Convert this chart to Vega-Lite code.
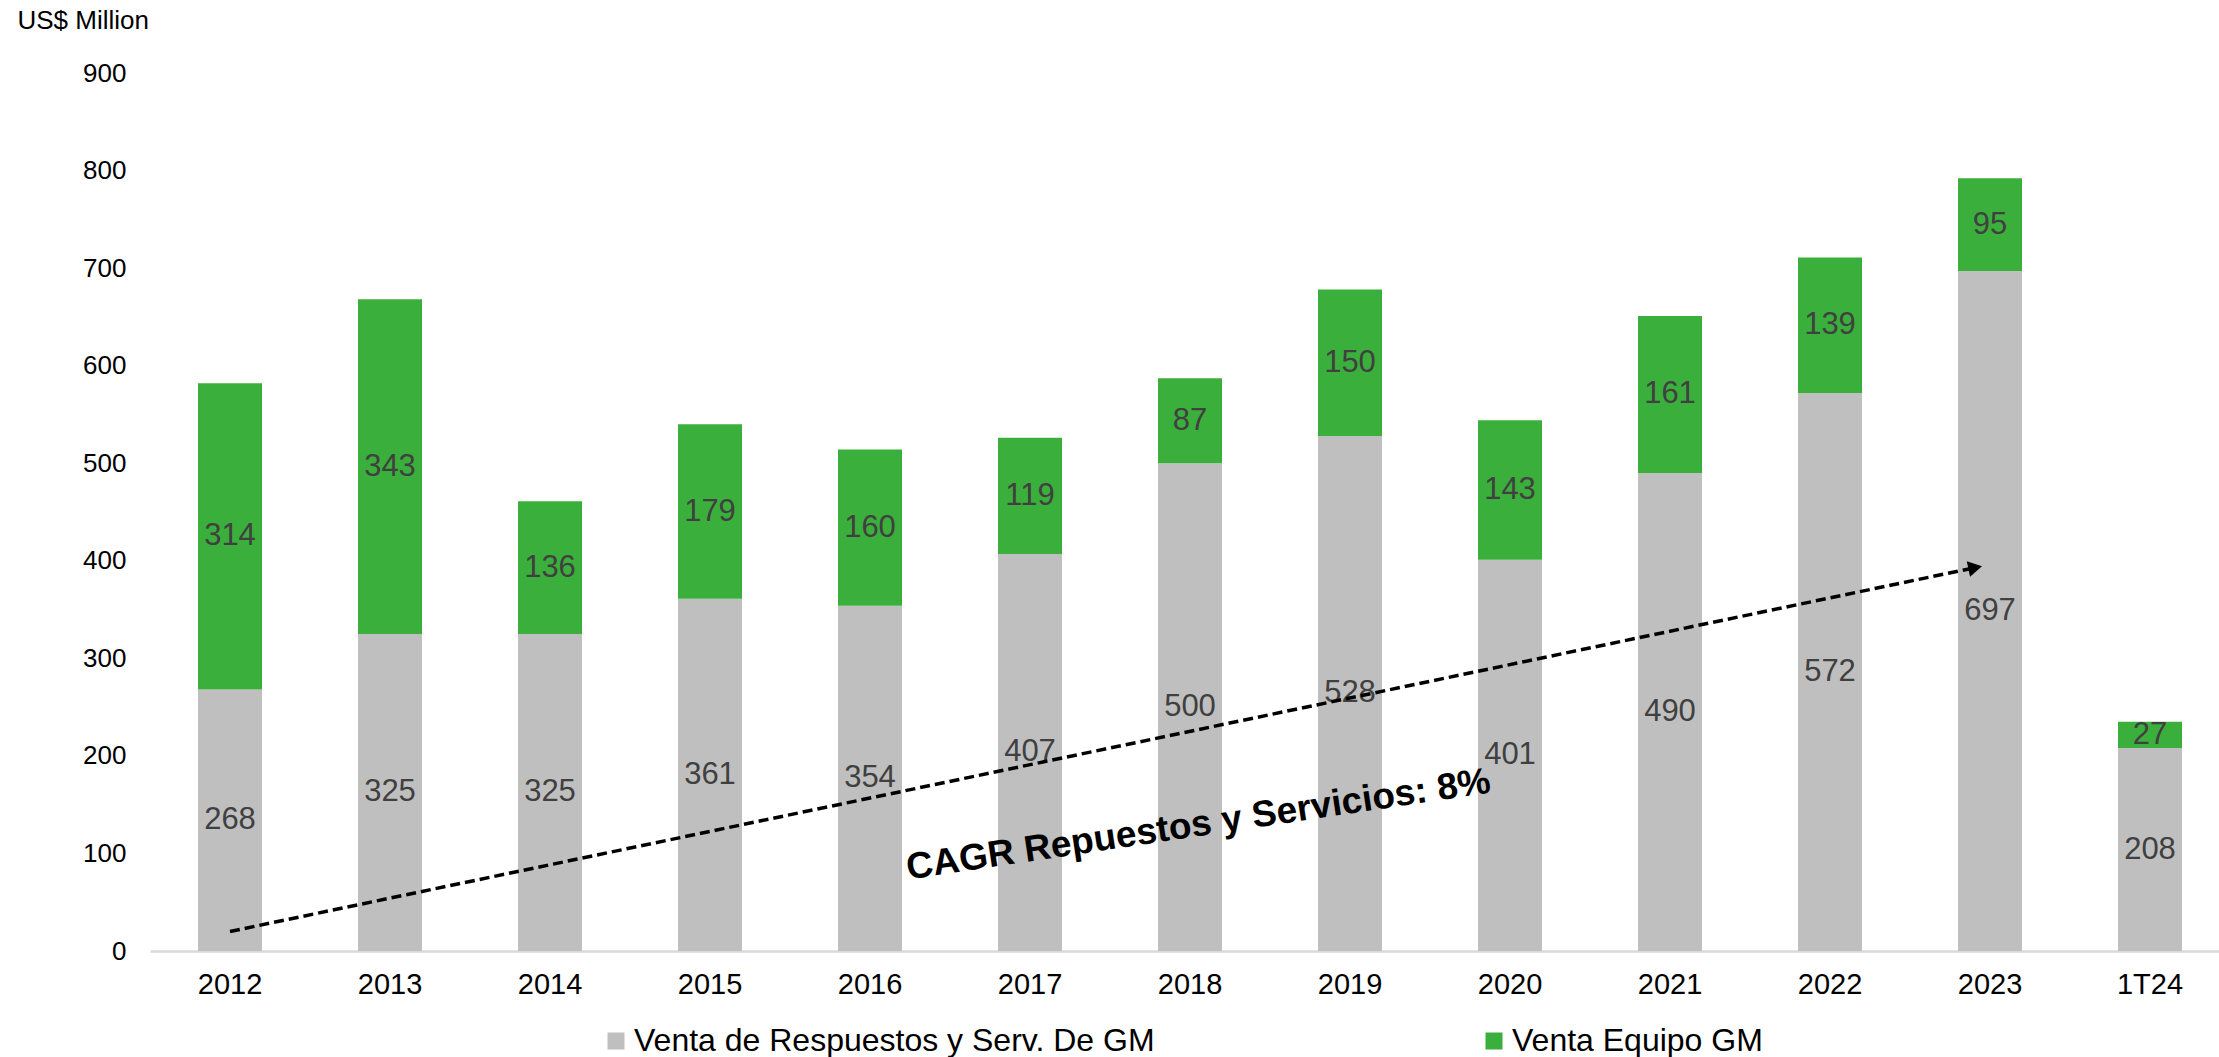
{
  "$schema": "https://vega.github.io/schema/vega-lite/v6.json",
  "autosize": "none",
  "width": 2080,
  "height": 878,
  "padding": {"left": 150, "top": 73, "right": 0, "bottom": 106},
  "background": "white",
  "config": {
    "view": {"stroke": null},
    "font": "Liberation Sans"
  },
  "data": {
    "values": [
      {"year": "2012", "series": "Venta de Respuestos y Serv. De GM", "value": 268},
      {"year": "2012", "series": "Venta Equipo GM", "value": 314},
      {"year": "2013", "series": "Venta de Respuestos y Serv. De GM", "value": 325},
      {"year": "2013", "series": "Venta Equipo GM", "value": 343},
      {"year": "2014", "series": "Venta de Respuestos y Serv. De GM", "value": 325},
      {"year": "2014", "series": "Venta Equipo GM", "value": 136},
      {"year": "2015", "series": "Venta de Respuestos y Serv. De GM", "value": 361},
      {"year": "2015", "series": "Venta Equipo GM", "value": 179},
      {"year": "2016", "series": "Venta de Respuestos y Serv. De GM", "value": 354},
      {"year": "2016", "series": "Venta Equipo GM", "value": 160},
      {"year": "2017", "series": "Venta de Respuestos y Serv. De GM", "value": 407},
      {"year": "2017", "series": "Venta Equipo GM", "value": 119},
      {"year": "2018", "series": "Venta de Respuestos y Serv. De GM", "value": 500},
      {"year": "2018", "series": "Venta Equipo GM", "value": 87},
      {"year": "2019", "series": "Venta de Respuestos y Serv. De GM", "value": 528},
      {"year": "2019", "series": "Venta Equipo GM", "value": 150},
      {"year": "2020", "series": "Venta de Respuestos y Serv. De GM", "value": 401},
      {"year": "2020", "series": "Venta Equipo GM", "value": 143},
      {"year": "2021", "series": "Venta de Respuestos y Serv. De GM", "value": 490},
      {"year": "2021", "series": "Venta Equipo GM", "value": 161},
      {"year": "2022", "series": "Venta de Respuestos y Serv. De GM", "value": 572},
      {"year": "2022", "series": "Venta Equipo GM", "value": 139},
      {"year": "2023", "series": "Venta de Respuestos y Serv. De GM", "value": 697},
      {"year": "2023", "series": "Venta Equipo GM", "value": 95},
      {"year": "1T24", "series": "Venta de Respuestos y Serv. De GM", "value": 208},
      {"year": "1T24", "series": "Venta Equipo GM", "value": 27}
    ]
  },
  "layer": [
    {
      "layer": [
        {
          "mark": {"type": "bar"},
          "encoding": {
            "x": {
              "field": "year", "type": "nominal",
              "sort": ["2012","2013","2014","2015","2016","2017","2018","2019","2020","2021","2022","2023","1T24"],
              "scale": {"paddingInner": 0.6, "paddingOuter": 0.3},
              "axis": {"title": null, "labelFontSize": 29, "labelColor": "black", "labelPadding": 19, "ticks": false, "tickSize": 0, "domainColor": "#D9D9D9", "domainWidth": 2.5, "labelAngle": 0, "grid": false}
            },
            "y": {
              "field": "value", "type": "quantitative", "stack": "zero",
              "scale": {"domain": [0, 900], "nice": false, "zero": true},
              "axis": {
                "title": "US$ Million", "titleAngle": 0, "titleAlign": "left", "titleBaseline": "alphabetic",
                "titleX": -133, "titleY": -45, "titleFontSize": 26, "titleFontWeight": "normal", "titleColor": "black",
                "labelFontSize": 26, "labelColor": "black", "labelPadding": 24, "ticks": false, "tickSize": 0,
                "domain": false, "grid": false, "values": [0,100,200,300,400,500,600,700,800,900]
              }
            },
            "color": {
              "field": "series", "type": "nominal",
              "scale": {"domain": ["Venta de Respuestos y Serv. De GM", "Venta Equipo GM"], "range": ["#BFBFBF", "#3BAF3B"]},
              "legend": {
                "orient": "none", "legendX": 450, "legendY": 952, "direction": "horizontal", "title": null,
                "symbolType": "square", "symbolSize": 289, "symbolStrokeWidth": 0, "labelFontSize": 32,
                "labelColor": "black", "labelOffset": 2, "columnPadding": 323, "padding": 0, "labelLimit": 1000
              }
            },
            "order": {"field": "series", "sort": "descending"}
          }
        },
        {
          "transform": [
            {"stack": "value", "groupby": ["year"], "sort": [{"field": "series", "order": "descending"}], "as": ["v0", "v1"]},
            {"fold": ["v0", "v1"], "as": ["k", "pos"]},
            {"aggregate": [{"op": "mean", "field": "pos", "as": "mid"}], "groupby": ["year", "series", "value"]}
          ],
          "mark": {"type": "text", "fontSize": 31, "color": "#404040", "baseline": "middle", "align": "center"},
          "encoding": {
            "x": {"field": "year", "type": "nominal", "sort": ["2012","2013","2014","2015","2016","2017","2018","2019","2020","2021","2022","2023","1T24"]},
            "y": {"field": "mid", "type": "quantitative"},
            "text": {"field": "value", "type": "quantitative"}
          }
        }
      ]
    },
    {
      "data": {"values": [{}]},
      "layer": [
        {
          "mark": {"type": "rule", "color": "black", "strokeWidth": 3.5, "strokeDash": [10, 5]},
          "encoding": {
            "x": {"datum": 0.5, "type": "quantitative", "scale": {"domain": [0, 13], "nice": false, "zero": false}, "axis": null},
            "y": {"datum": 20, "type": "quantitative"},
            "x2": {"datum": 11.4075},
            "y2": {"datum": 393}
          }
        },
        {
          "mark": {"type": "point", "shape": "triangle-right", "filled": true, "color": "black", "opacity": 1, "size": 256, "angle": 348.2},
          "encoding": {
            "x": {"datum": 11.4075, "type": "quantitative"},
            "y": {"datum": 393, "type": "quantitative"}
          }
        },
        {
          "mark": {"type": "text", "text": "CAGR Repuestos y Servicios: 8%", "fontSize": 37, "fontWeight": "bold", "color": "black", "angle": 351.5, "align": "center", "baseline": "alphabetic"},
          "encoding": {
            "x": {"datum": 6.5625, "type": "quantitative"},
            "y": {"datum": 118, "type": "quantitative"}
          }
        }
      ]
    }
  ],
  "resolve": {"scale": {"x": "independent"}, "axis": {"x": "independent"}}
}
